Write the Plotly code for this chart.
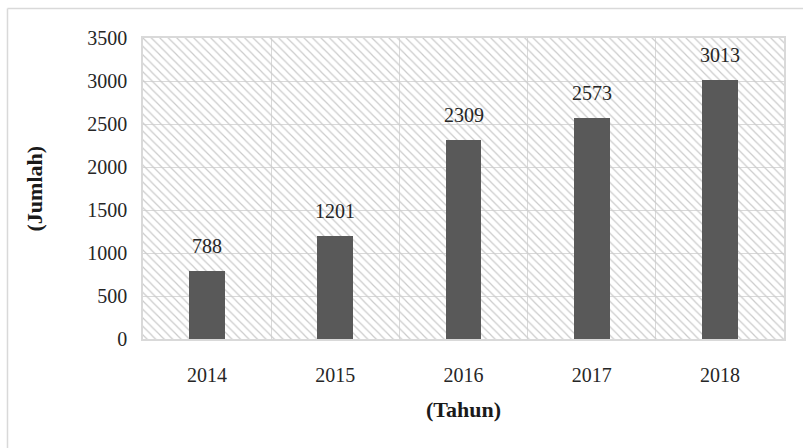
import plotly.graph_objects as go

years = ["2014", "2015", "2016", "2017", "2018"]
jumlah = [788, 1201, 2309, 2573, 3013]
y_ticks = [0, 500, 1000, 1500, 2000, 2500, 3000, 3500]
y_max = 3500
x_title = "(Tahun)"
y_title = "(Jumlah)"

FONT = "Liberation Serif"
GRID = "#d9d9d9"

fig = go.Figure()

# hatched plot background
fig.add_trace(go.Bar(
    x=years, y=[y_max] * len(years), width=1,
    marker=dict(color="#cbcbcb", line=dict(width=0),
                pattern=dict(shape="\\", size=6, solidity=0.2, fillmode="replace")),
    hoverinfo="skip", showlegend=False,
))

fig.add_trace(go.Bar(
    x=years, y=jumlah, width=0.28,
    marker=dict(color="#595959", line=dict(width=0)),
    showlegend=False,
))

for i, v in enumerate(jumlah):
    fig.add_annotation(x=i, y=v, text=str(v), showarrow=False,
                       yanchor="bottom", yshift=12,
                       font=dict(family=FONT, size=20, color="#262626"))

fig.add_annotation(xref="paper", yref="paper", x=0.5, y=-0.2326, text="<b>" + x_title + "</b>",
                   showarrow=False, xanchor="center", yanchor="middle",
                   font=dict(family=FONT, size=22, color="#1a1a1a"))
fig.add_annotation(xref="paper", yref="paper", x=-0.1685, y=0.5, text="<b>" + y_title + "</b>",
                   showarrow=False, xanchor="center", yanchor="middle", textangle=-90,
                   font=dict(family=FONT, size=22, color="#1a1a1a"))

# outer chart border (top and left visible)
fig.add_shape(type="line", xref="paper", yref="paper", x0=-0.2114, y0=1.098, x1=1.2, y1=1.098,
              line=dict(color=GRID, width=1.5))
fig.add_shape(type="line", xref="paper", yref="paper", x0=-0.2114, y0=1.098, x1=-0.2114, y1=-0.5,
              line=dict(color=GRID, width=1.5))

fig.update_layout(
    width=803, height=448,
    margin=dict(l=143, r=19, t=38, b=109),
    paper_bgcolor="white", plot_bgcolor="white",
    barmode="overlay", bargap=0,
    font=dict(family=FONT, size=20, color="#262626"),
)
fig.update_xaxes(type="category", tickson="boundaries", showgrid=True, gridcolor=GRID, gridwidth=1,
                 showline=True, mirror=True, linecolor=GRID, linewidth=1.5,
                 ticks="", ticklabelstandoff=17, range=[-0.5, 4.5])
fig.update_yaxes(range=[0, y_max], tickvals=y_ticks, showgrid=True, gridcolor=GRID, gridwidth=1,
                 showline=True, mirror=True, linecolor=GRID, linewidth=1.5,
                 ticks="", ticklabelstandoff=10, zeroline=False)

fig.write_html("out.html")
